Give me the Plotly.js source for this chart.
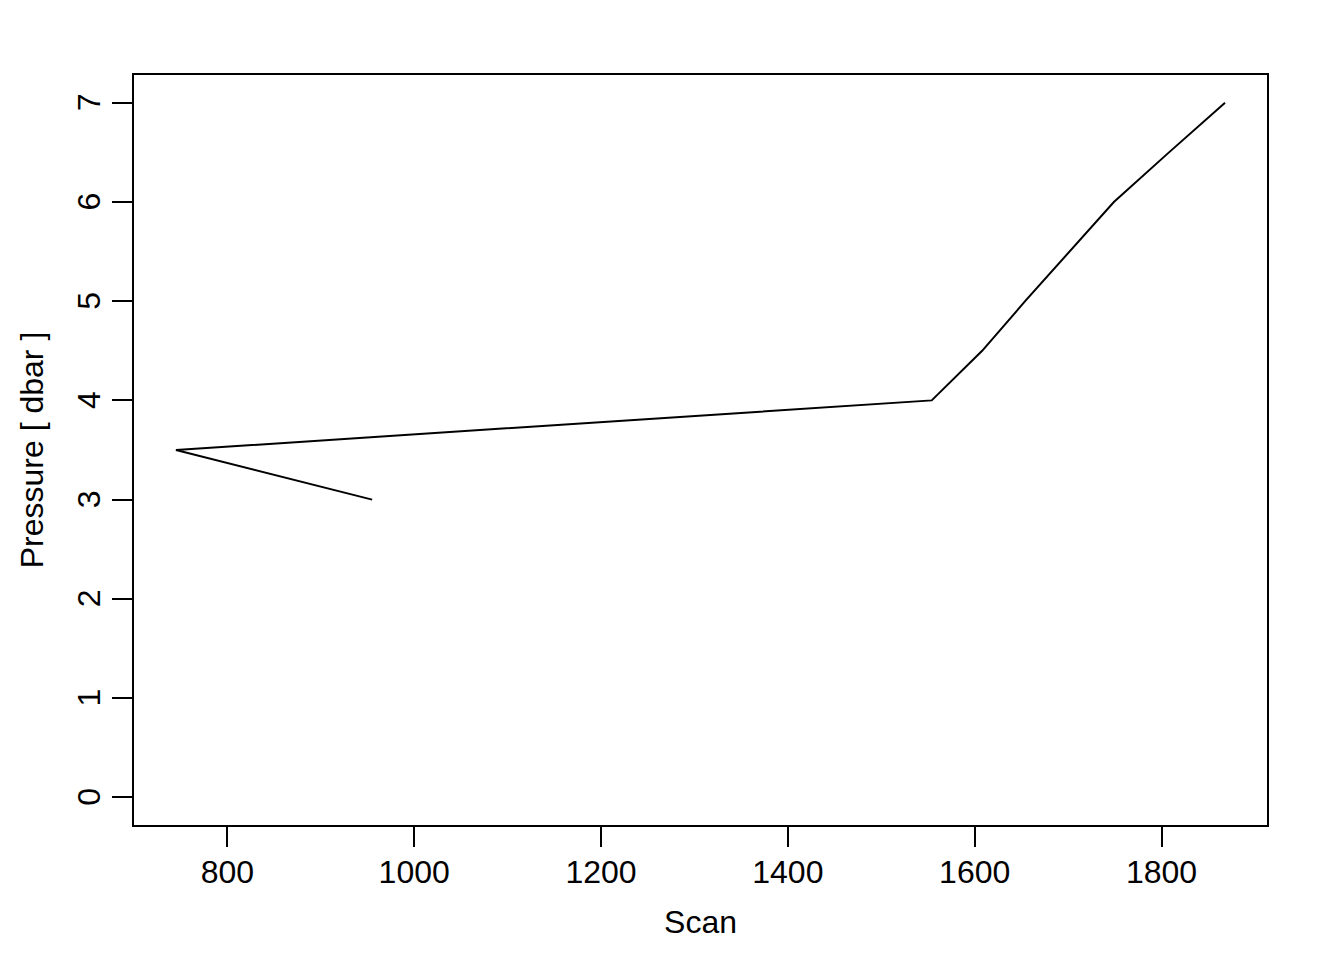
<!DOCTYPE html>
<html>
<head>
<meta charset="utf-8">
<script src="https://cdn.plot.ly/plotly-3.0.1.min.js"></script>
<style>html,body{margin:0;padding:0;background:#fff;}#chart{width:1344px;height:960px;}</style>
</head>
<body>
<div id="chart"></div>
<script>
const scan = [955, 745, 1554, 1608, 1654, 1702, 1749, 1808, 1868];
const pressure = [3, 3.5, 4, 4.5, 5, 5.5, 6, 6.5, 7];
const xTicks = [800, 1000, 1200, 1400, 1600, 1800];
const yTicks = [0, 1, 2, 3, 4, 5, 6, 7];
const xTitle = "Scan";
const yTitle = "Pressure [ dbar ]";

const font = {family: "Liberation Sans, Arial, sans-serif", size: 32, color: "#000"};

Plotly.newPlot("chart", [{
  x: scan, y: pressure, type: "scatter", mode: "lines",
  line: {color: "#000", width: 2}, hoverinfo: "skip"
}], {
  width: 1344, height: 960,
  margin: {l: 134, r: 77, t: 75, b: 135},
  paper_bgcolor: "#fff", plot_bgcolor: "#fff",
  font: font, showlegend: false,
  xaxis: {
    range: [700.08, 1912.92], tickvals: xTicks, ticktext: xTicks.map(String),
    showgrid: false, zeroline: false, showline: true, mirror: true,
    linecolor: "#000", linewidth: 2, ticks: "outside", ticklen: 20, tickwidth: 2, tickcolor: "#000",
    ticklabelstandoff: -2, tickfont: font,
    title: {text: xTitle, font: font, standoff: 21}
  },
  yaxis: {
    range: [-0.28, 7.28], tickvals: yTicks, ticktext: yTicks.map(v => String(v) + "\u00A0"),
    showgrid: false, zeroline: false, showline: true, mirror: true,
    linecolor: "#000", linewidth: 2, ticks: "outside", ticklen: 20, tickwidth: 2, tickcolor: "#000",
    tickangle: -90, ticklabelstandoff: -1, tickfont: font,
    title: {text: yTitle, font: font, standoff: 18}
  }
}, {staticPlot: true});
</script>
</body>
</html>
